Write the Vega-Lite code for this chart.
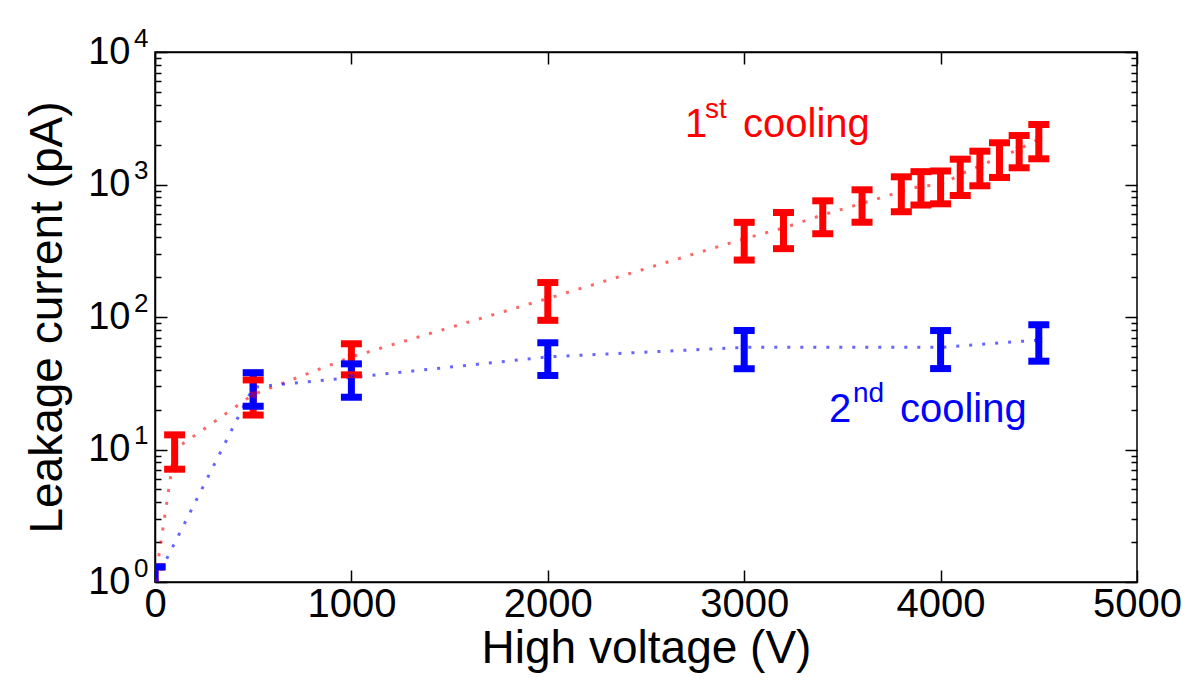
{
  "$schema": "https://vega.github.io/schema/vega-lite/v6.json",
  "width": 982,
  "height": 530,
  "autosize": {"type": "none"},
  "padding": {"left": 155, "top": 52, "right": 57, "bottom": 111},
  "background": "white",
  "config": {
    "font": "Liberation Sans",
    "view": {"stroke": "black", "strokeWidth": 1.5},
    "axis": {"grid": false, "labelFlush": false, "labelOverlap": false, "domainColor": "black", "domainWidth": 1.5, "tickColor": "black", "tickWidth": 1.5, "labelColor": "black", "titleColor": "black", "titleFontWeight": "normal"}
  },
  "datasets": {
    "pts": [
      {"s": "1st", "v": 0, "c": 1, "lo": 0.7, "hi": 1.3},
      {"s": "1st", "v": 100, "c": 10, "lo": 7.1, "hi": 12.9},
      {"s": "1st", "v": 500, "c": 26, "lo": 18.2, "hi": 33.5},
      {"s": "1st", "v": 1000, "c": 50, "lo": 36.6, "hi": 62.8},
      {"s": "1st", "v": 2000, "c": 138, "lo": 94.4, "hi": 182},
      {"s": "1st", "v": 3000, "c": 390, "lo": 269, "hi": 518},
      {"s": "1st", "v": 3200, "c": 470, "lo": 328, "hi": 615},
      {"s": "1st", "v": 3400, "c": 590, "lo": 425, "hi": 753},
      {"s": "1st", "v": 3600, "c": 720, "lo": 519, "hi": 912},
      {"s": "1st", "v": 3800, "c": 885, "lo": 623, "hi": 1143},
      {"s": "1st", "v": 3900, "c": 975, "lo": 700, "hi": 1250},
      {"s": "1st", "v": 4000, "c": 990, "lo": 715, "hi": 1265},
      {"s": "1st", "v": 4100, "c": 1190, "lo": 826, "hi": 1553},
      {"s": "1st", "v": 4200, "c": 1385, "lo": 978, "hi": 1784},
      {"s": "1st", "v": 4300, "c": 1600, "lo": 1130, "hi": 2065},
      {"s": "1st", "v": 4400, "c": 1850, "lo": 1337, "hi": 2342},
      {"s": "1st", "v": 4500, "c": 2200, "lo": 1563, "hi": 2837},
      {"s": "2nd", "v": 0, "c": 1, "lo": 0.7, "hi": 1.3},
      {"s": "2nd", "v": 500, "c": 29.5, "lo": 21.2, "hi": 38},
      {"s": "2nd", "v": 1000, "c": 35, "lo": 24.8, "hi": 44.3},
      {"s": "2nd", "v": 2000, "c": 50, "lo": 36.2, "hi": 63.9},
      {"s": "2nd", "v": 3000, "c": 59, "lo": 40.7, "hi": 79.1},
      {"s": "2nd", "v": 4000, "c": 59, "lo": 40.8, "hi": 79},
      {"s": "2nd", "v": 4500, "c": 67, "lo": 46.4, "hi": 87.4}
    ],
    "big": [
      {"s": "1st", "t": "1", "v": 2699, "c": 2296},
      {"s": "1st", "t": "cooling", "v": 2994, "c": 2296},
      {"s": "2nd", "t": "2", "v": 3432, "c": 16.2},
      {"s": "2nd", "t": "cooling", "v": 3793, "c": 16.2}
    ],
    "sup": [
      {"s": "1st", "t": "st", "v": 2800, "c": 3177},
      {"s": "2nd", "t": "nd", "v": 3554, "c": 22.9}
    ]
  },
  "data": {"name": "pts"},
  "layer": [
    {
      "mark": {"type": "line", "strokeDash": [3, 10], "strokeWidth": 3, "opacity": 0.6, "clip": true},
      "encoding": {
        "x": {"field": "v", "type": "quantitative", "scale": {"domain": [0, 5000], "nice": false, "zero": false},
          "axis": {"orient": "bottom", "values": [0, 1000, 2000, 3000, 4000, 5000], "format": "d", "tickSize": -12, "labelFontSize": 40, "labelPadding": 14, "title": "High voltage (V)", "titleFontSize": 46, "titlePadding": 2}},
        "y": {"field": "c", "type": "quantitative", "scale": {"type": "log", "domain": [1, 10000], "nice": false},
          "axis": {"orient": "left", "values": [1, 10, 100, 1000, 10000], "labelExpr": "'10'", "ticks": false, "labelFontSize": 38, "labelPadding": 25, "labelBaseline": "middle", "title": "Leakage current (pA)", "titleFontSize": 46, "titlePadding": 16}},
        "color": {"field": "s", "type": "nominal", "scale": {"domain": ["1st", "2nd"], "range": ["#ff0000", "#0000ff"]}, "legend": null}
      }
    },
    {
      "mark": {"type": "rule", "strokeWidth": 7, "opacity": 1, "clip": true},
      "encoding": {
        "x": {"field": "v", "type": "quantitative", "axis": {"orient": "top", "values": [0, 1000, 2000, 3000, 4000, 5000], "tickSize": -12, "labels": false, "title": null}},
        "y": {"field": "lo", "type": "quantitative", "axis": {"orient": "left", "values": [1, 10, 100, 1000, 10000], "labelExpr": "format(log(datum.value)/LN10, '.0f')", "ticks": false, "domain": false, "labelFontSize": 26, "labelPadding": 7, "labelOffset": -14, "title": null}},
        "y2": {"field": "hi"},
        "color": {"field": "s", "type": "nominal", "legend": null}
      }
    },
    {
      "mark": {"type": "tick", "orient": "horizontal", "size": 21, "thickness": 7, "opacity": 1, "clip": true},
      "encoding": {
        "x": {"field": "v", "type": "quantitative", "axis": null},
        "y": {"field": "lo", "type": "quantitative", "axis": {"orient": "left", "values": [1,2,3,4,5,6,7,8,9,10,20,30,40,50,60,70,80,90,100,200,300,400,500,600,700,800,900,1000,2000,3000,4000,5000,6000,7000,8000,9000,10000], "labels": false, "domain": false, "tickSize": {"condition": {"test": "indexof([1,10,100,1000,10000], datum.value) >= 0", "value": -12}, "value": -6}, "title": null}},
        "color": {"field": "s", "type": "nominal", "legend": null}
      }
    },
    {
      "mark": {"type": "tick", "orient": "horizontal", "size": 21, "thickness": 7, "opacity": 1, "clip": true},
      "encoding": {
        "x": {"field": "v", "type": "quantitative", "axis": null},
        "y": {"field": "hi", "type": "quantitative", "axis": {"orient": "right", "values": [1,2,3,4,5,6,7,8,9,10,20,30,40,50,60,70,80,90,100,200,300,400,500,600,700,800,900,1000,2000,3000,4000,5000,6000,7000,8000,9000,10000], "labels": false, "domain": false, "tickSize": {"condition": {"test": "indexof([1,10,100,1000,10000], datum.value) >= 0", "value": -12}, "value": -6}, "title": null}},
        "color": {"field": "s", "type": "nominal", "legend": null}
      }
    },
    {
      "mark": {"type": "point", "shape": "cross", "angle": 45, "size": 60, "filled": true, "opacity": 0.5, "clip": true},
      "encoding": {
        "x": {"field": "v", "type": "quantitative", "axis": null},
        "y": {"field": "c", "type": "quantitative", "axis": null},
        "color": {"field": "s", "type": "nominal", "legend": null}
      }
    },
    {
      "data": {"name": "big"},
      "mark": {"type": "text", "align": "left", "baseline": "alphabetic", "fontSize": 40},
      "encoding": {
        "x": {"field": "v", "type": "quantitative", "axis": null},
        "y": {"field": "c", "type": "quantitative", "axis": null},
        "text": {"field": "t"},
        "color": {"field": "s", "type": "nominal", "legend": null}
      }
    },
    {
      "data": {"name": "sup"},
      "mark": {"type": "text", "align": "left", "baseline": "alphabetic", "fontSize": 28},
      "encoding": {
        "x": {"field": "v", "type": "quantitative", "axis": null},
        "y": {"field": "c", "type": "quantitative", "axis": null},
        "text": {"field": "t"},
        "color": {"field": "s", "type": "nominal", "legend": null}
      }
    }
  ],
  "resolve": {"axis": {"x": "independent", "y": "independent"}}
}
